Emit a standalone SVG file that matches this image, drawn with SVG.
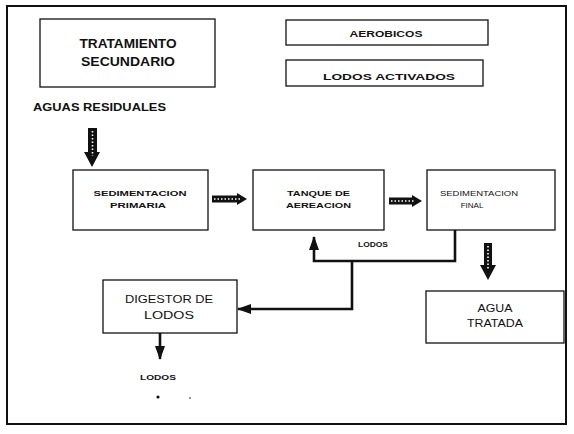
<svg xmlns="http://www.w3.org/2000/svg" width="574" height="434" viewBox="0 0 574 434">
<defs>
<style>
.box{fill:#fff;stroke:#111;stroke-width:1.3}
.t{font-family:"Liberation Sans",Arial,sans-serif;fill:#111;text-anchor:middle}
.b{font-weight:bold}
.hat{fill:#111}
.dots{stroke:#fff;stroke-width:1.6;stroke-dasharray:1.5 2;fill:none}
.con{fill:none;stroke:#111;stroke-width:2.6}
</style>
<marker id="ahv" viewBox="0 0 14 10" refX="13" refY="5" markerWidth="14" markerHeight="10" markerUnits="userSpaceOnUse" orient="auto">
<path d="M0,0 L14,5 L0,10 Z" fill="#111"/>
</marker>
</defs>
<rect width="574" height="434" fill="#fff"/>
<rect x="7" y="6" width="559" height="418" fill="none" stroke="#111" stroke-width="2"/>

<g id="tratamiento">
<rect class="box" x="40" y="19" width="175" height="68"/>
<text class="t b" x="128" y="48" font-size="12.5" textLength="97" lengthAdjust="spacingAndGlyphs">TRATAMIENTO</text>
<text class="t b" x="128" y="66" font-size="12.5" textLength="94" lengthAdjust="spacingAndGlyphs">SECUNDARIO</text>
</g>
<g id="aerobicos">
<rect class="box" x="286" y="20" width="202" height="25"/>
<text class="t b" x="386" y="37" font-size="9.5" textLength="73" lengthAdjust="spacingAndGlyphs">AEROBICOS</text>
</g>
<g id="lodos-activados">
<rect class="box" x="286" y="60" width="197" height="26"/>
<text class="t b" x="389" y="80" font-size="9.5" textLength="132" lengthAdjust="spacingAndGlyphs">LODOS ACTIVADOS</text>
</g>
<g id="aguas-residuales">
<text class="t b" x="99.5" y="111" font-size="10" textLength="133" lengthAdjust="spacingAndGlyphs">AGUAS RESIDUALES</text>
</g>
<g id="sed-primaria">
<rect class="box" x="73" y="170" width="135" height="60"/>
<text class="t b" x="140" y="196" font-size="8" textLength="93" lengthAdjust="spacingAndGlyphs">SEDIMENTACION</text>
<text class="t b" x="138" y="208" font-size="8" textLength="56" lengthAdjust="spacingAndGlyphs">PRIMARIA</text>
</g>
<g id="tanque">
<rect class="box" x="253" y="170" width="131" height="60"/>
<text class="t b" x="318.5" y="196" font-size="8" textLength="63" lengthAdjust="spacingAndGlyphs">TANQUE DE</text>
<text class="t b" x="318.5" y="208" font-size="8" textLength="65" lengthAdjust="spacingAndGlyphs">AEREACION</text>
</g>
<g id="sed-final">
<rect class="box" x="427" y="170" width="128" height="60"/>
<text class="t" x="479" y="196" font-size="8" textLength="78" lengthAdjust="spacingAndGlyphs">SEDIMENTACION</text>
<text class="t" x="472" y="208" font-size="8" fill="#333">FINAL</text>
</g>
<g id="digestor">
<rect class="box" x="103" y="280" width="134" height="53"/>
<text class="t" x="169" y="303" font-size="11" textLength="88" lengthAdjust="spacingAndGlyphs">DIGESTOR DE</text>
<text class="t" x="169" y="319" font-size="11" textLength="50" lengthAdjust="spacingAndGlyphs">LODOS</text>
</g>
<g id="agua-tratada">
<rect class="box" x="426" y="291" width="138" height="52"/>
<text class="t" x="495" y="312" font-size="11" textLength="35" lengthAdjust="spacingAndGlyphs">AGUA</text>
<text class="t" x="495" y="327" font-size="11" textLength="56" lengthAdjust="spacingAndGlyphs">TRATADA</text>
</g>

<g id="connectors">
<polygon class="hat" points="88,128 97,128 97,152 100,152 92,167 84,152 88,152"/>
<line class="dots" x1="92.5" y1="131" x2="92.5" y2="156"/>
<polygon class="hat" points="212,195.5 237,195.5 237,193 247,199 237,205 237,202.5 212,202.5"/>
<line class="dots" x1="214" y1="199" x2="240" y2="199"/>
<polygon class="hat" points="389,197.5 412,197.5 412,195 422,201 412,207 412,204.5 389,204.5"/>
<line class="dots" x1="391" y1="201" x2="415" y2="201"/>
<polygon class="hat" points="484,243 492,243 492,265 496,265 488,280 480,265 484,265"/>
<line class="dots" x1="488" y1="246" x2="488" y2="270"/>
<path class="con" d="M455,230 V261 H314 V237" marker-end="url(#ahv)"/>
<path class="con" d="M352,261 V309 H238" marker-end="url(#ahv)"/>
<path class="con" d="M160,333 V359" marker-end="url(#ahv)"/>
<text class="t b" x="373" y="247" font-size="6.5" textLength="30" lengthAdjust="spacingAndGlyphs">LODOS</text>
</g>
<g id="lodos-salida">
<text class="t b" x="158" y="380" font-size="6.5" textLength="36" lengthAdjust="spacingAndGlyphs">LODOS</text>
<circle cx="158" cy="397" r="1.6" fill="#111"/>
<circle cx="190" cy="398" r="0.8" fill="#111"/>
</g>
</svg>
